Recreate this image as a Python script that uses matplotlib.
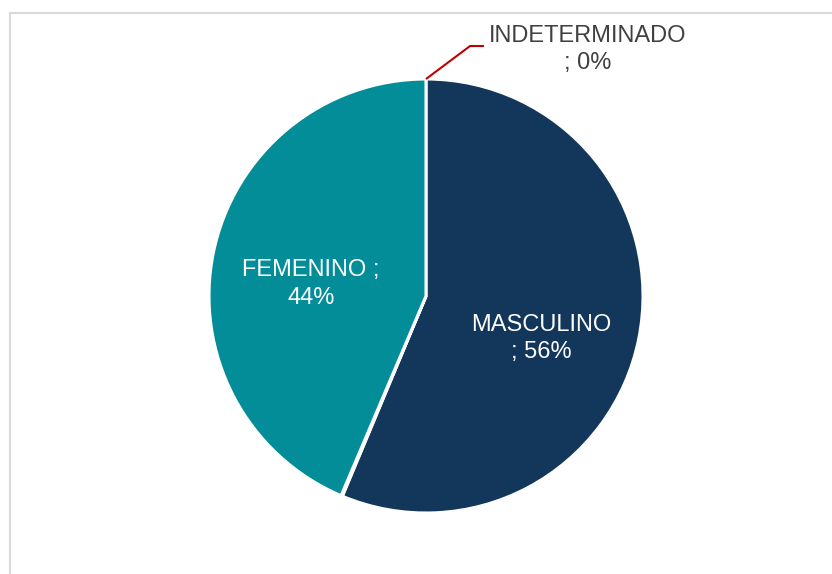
import matplotlib.pyplot as plt
from matplotlib.patches import Rectangle

plt.rcParams['font.family'] = ['Liberation Sans', 'DejaVu Sans']

categories = ["MASCULINO", "INDETERMINADO", "FEMENINO"]
values = [56.3, 0.1, 43.6]
colors = ["#12375A", "#C00000", "#038D99"]

W, H = 832, 574
cx, cy, r = 426, 296, 217   # pie centre and radius in pixels

fig = plt.figure(figsize=(W / 100, H / 100), dpi=100)
ax = fig.add_axes([0, 0, 1, 1])

# outer chart frame (only the top and left edges are visible)
fig.patches.append(Rectangle((10 / W, -0.1), 1.2, 1.1 - 13 / H,
                             transform=fig.transFigure, fill=False,
                             edgecolor="#D9D9D9", linewidth=1.5))

wedges, _ = ax.pie(values, colors=colors, startangle=90, counterclock=False,
                   radius=1, wedgeprops=dict(edgecolor="white", linewidth=2.2))
wedges[1].set_facecolor("white")

ax.set_xlim(-cx / r, (W - cx) / r)
ax.set_ylim((cy - H) / r, cy / r)
ax.set_aspect("equal")
ax.axis("off")

pct = [f"{round(v)}%" for v in values]

ax.text(0.53, -0.194, f"{categories[0]}\n; {pct[0]}", ha="center", va="center",
        color="white", fontsize=17, linespacing=1.3)
ax.text(-0.53, 0.055, f"{categories[2]} ;\n{pct[2]}", ha="center", va="center",
        color="white", fontsize=17, linespacing=1.35)
ax.text(0.744, 1.134, f"{categories[1]}\n; {pct[1]}", ha="center", va="center",
        color="#404040", fontsize=17, linespacing=1.3)

# leader line for the tiny slice
ax.plot([0.0, 0.203, 0.267], [1.0, 1.152, 1.152], color="#C00000", linewidth=1.5,
        solid_capstyle="butt")

fig.savefig("out.png", dpi=100)
